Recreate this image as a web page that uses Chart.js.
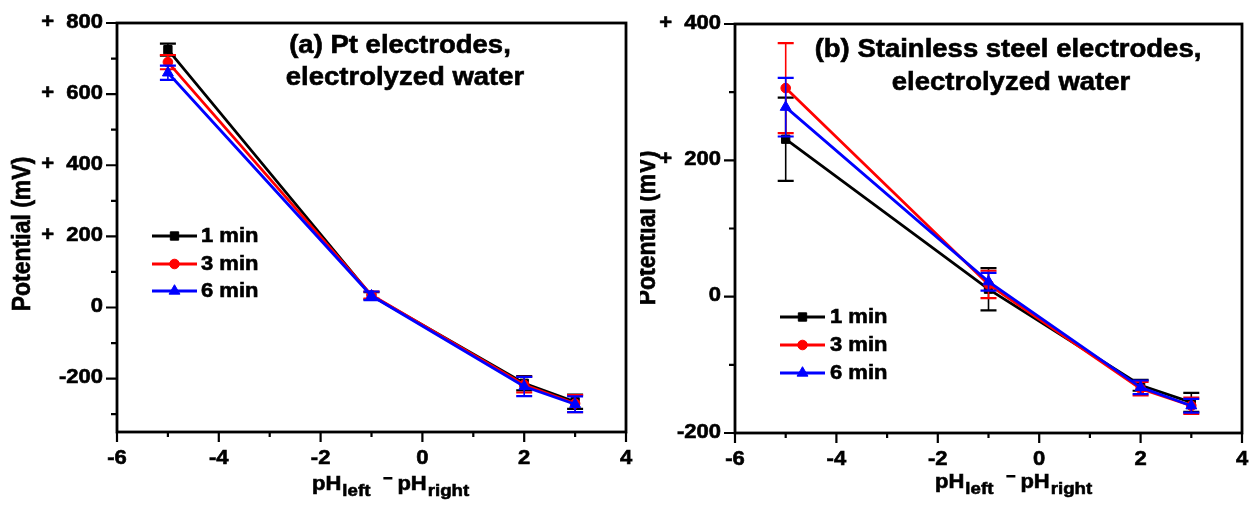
<!DOCTYPE html>
<html>
<head>
<meta charset="utf-8">
<script src="https://cdn.jsdelivr.net/npm/chart.js@4.4.1/dist/chart.umd.min.js"></script>
<style>
  body { margin: 0; background: #fff; width: 1258px; height: 505px; overflow: hidden; position: relative; }
  canvas { position: absolute; top: 0; }
  #chartA { left: 0; }
  #chartB { left: 640px; }
</style>
</head>
<body>
<canvas id="chartA" width="640" height="505"></canvas>
<canvas id="chartB" width="618" height="505"></canvas>
<script>
// x values: pH(left) - pH(right)
const xVals = [-5, -1, 2, 3];
const seriesNames = ['1 min', '3 min', '6 min'];

// (a) Pt electrodes, potential in mV, with error bars
const pt1 = [725, 33, -213, -265];
const pt1Err = [17, 10, 20, 20];
const pt3 = [690, 35, -217, -270];
const pt3Err = [20, 10, 22, 24];
const pt6 = [660, 33, -222, -272];
const pt6Err = [20, 12, 27, 22];

// (b) Stainless steel electrodes
const ss1 = [231, 11, -130, -155];
const ss1Err = [61, 31, 8, 14];
const ss3 = [306, 18, -135, -160];
const ss3Err = [66, 20, 10, 12];
const ss6 = [278, 22, -133, -160];
const ss6Err = [43, 13, 10, 10];

// tick labels
const xTickLabels = [-6, -4, -2, 0, 2, 4];
const yTickLabelsA = [800, 600, 400, 200, 0, -200];
const yTickLabelsB = [400, 200, 0, -200];

const colors = ['#000000', '#ff0000', '#0000ff'];
const styles = ['rect', 'circle', 'triangle'];
const radii = [5.9, 4.8, 6.3];
const SX = 1.1; // the source text is a bit wider than Arial
const FONT = '"Liberation Sans", Arial, sans-serif';

function txt(ctx, s, x, y, size, align, base) {
  ctx.save();
  ctx.font = 'bold ' + size + 'px ' + FONT;
  ctx.textAlign = align || 'left';
  ctx.textBaseline = base || 'middle';
  ctx.fillStyle = '#000';
  ctx.strokeStyle = '#000';
  ctx.lineWidth = 0.6;
  ctx.translate(x, y);
  ctx.scale(SX, 1);
  ctx.fillText(s, 0, 0);
  ctx.strokeText(s, 0, 0);
  const w = ctx.measureText(s).width * SX;
  ctx.restore();
  return w;
}

function marker(ctx, style, r, x, y, color) {
  ctx.save();
  ctx.fillStyle = color;
  ctx.strokeStyle = color;
  ctx.lineWidth = 1;
  ctx.beginPath();
  if (style === 'rect') {
    const s = Math.SQRT1_2 * r;
    ctx.rect(x - s, y - s, 2 * s, 2 * s);
  } else if (style === 'circle') {
    ctx.arc(x, y, r, 0, Math.PI * 2);
  } else {
    let a = 0;
    ctx.moveTo(x + Math.sin(a) * r, y - Math.cos(a) * r);
    a += 2 * Math.PI / 3;
    ctx.lineTo(x + Math.sin(a) * r, y - Math.cos(a) * r);
    a += 2 * Math.PI / 3;
    ctx.lineTo(x + Math.sin(a) * r, y - Math.cos(a) * r);
    ctx.closePath();
  }
  ctx.fill();
  ctx.stroke();
  ctx.restore();
}

const errorBars = {
  id: 'errorBars',
  afterDatasetDraw(chart, args) {
    const ds = chart.data.datasets[args.index];
    const y = chart.scales.y;
    const ctx = chart.ctx;
    ctx.save();
    ctx.strokeStyle = ds.borderColor;
    args.meta.data.forEach((pt, i) => {
      const top = y.getPixelForValue(ds.data[i].y + ds.err[i]);
      const bot = y.getPixelForValue(ds.data[i].y - ds.err[i]);
      ctx.lineWidth = 1.6;
      ctx.beginPath();
      ctx.moveTo(pt.x, top); ctx.lineTo(pt.x, bot);
      ctx.stroke();
      ctx.lineWidth = 2.2;
      ctx.beginPath();
      ctx.moveTo(pt.x - 8, top); ctx.lineTo(pt.x + 8, top);
      ctx.moveTo(pt.x - 8, bot); ctx.lineTo(pt.x + 8, bot);
      ctx.stroke();
    });
    ctx.restore();
  }
};

const decor = {
  id: 'decor',
  afterDraw(chart, args, o) {
    const ctx = chart.ctx;
    const a = chart.chartArea;
    const sx = chart.scales.x, sy = chart.scales.y;
    ctx.save();
    ctx.strokeStyle = '#000';
    // frame
    ctx.lineWidth = 2.8;
    ctx.strokeRect(a.left, a.top, a.right - a.left, a.bottom - a.top);
    // ticks
    ctx.lineWidth = 2.2;
    ctx.beginPath();
    for (let v = sx.min; v <= sx.max; v += 1) {
      const px = sx.getPixelForValue(v);
      const len = xTickLabels.includes(v) ? 10 : 5;
      ctx.moveTo(px, a.bottom); ctx.lineTo(px, a.bottom + len);
    }
    for (let v = Math.ceil(sy.min / 100) * 100; v <= sy.max; v += 100) {
      const py = sy.getPixelForValue(v);
      const len = o.yTicks.includes(v) ? 11 : 6;
      ctx.moveTo(a.left, py); ctx.lineTo(a.left - len, py);
    }
    ctx.stroke();
    ctx.restore();

    xTickLabels.forEach(v => txt(ctx, String(v), sx.getPixelForValue(v), a.bottom + 26, 20, 'center'));
    o.yTicks.forEach(v => {
      const s = v > 0 ? '+  ' + v : String(v);
      txt(ctx, s, a.left - 14, sy.getPixelForValue(v) - 1, 20, 'right');
    });

    // panel title
    o.title.forEach(t => txt(ctx, t[0], t[1], t[2], 25, 'center'));

    // legend
    const L = o.legend;
    L.ys.forEach((ly, k) => {
      ctx.save();
      ctx.strokeStyle = colors[k];
      ctx.lineWidth = 2.8;
      ctx.beginPath();
      ctx.moveTo(L.x1, ly); ctx.lineTo(L.x2, ly);
      ctx.stroke();
      ctx.restore();
      marker(ctx, styles[k], radii[k], (L.x1 + L.x2) / 2, ly, colors[k]);
      txt(ctx, seriesNames[k], L.xt, ly, 20, 'left');
    });

    // y axis title
    ctx.save();
    ctx.translate(o.yTitle[0], o.yTitle[1]);
    ctx.rotate(-Math.PI / 2);
    ctx.scale(1, SX);
    ctx.font = 'bold 23px ' + FONT;
    ctx.textAlign = 'center';
    ctx.textBaseline = 'middle';
    ctx.fillStyle = '#000';
    ctx.strokeStyle = '#000';
    ctx.lineWidth = 0.6;
    ctx.fillText('Potential (mV)', 0, 0);
    ctx.strokeText('Potential (mV)', 0, 0);
    ctx.restore();

    // x axis title: pH_left - pH_right
    let x = o.xTitle[0];
    const y = o.xTitle[1];
    x += txt(ctx, 'pH', x, y, 20, 'left', 'alphabetic');
    x += txt(ctx, 'left', x + 1, y + 6, 17, 'left', 'alphabetic') + 1;
    x += 13;
    ctx.fillStyle = '#000';
    ctx.fillRect(x, y - 13, 9, 2.5);
    x += 9 + 5;
    x += txt(ctx, 'pH', x, y, 20, 'left', 'alphabetic');
    txt(ctx, 'right', x + 1, y + 6, 17, 'left', 'alphabetic');
  }
};

function makeChart(id, vals, errs, ymin, ymax, pad, deco) {
  const datasets = seriesNames.map((name, k) => ({
    label: name,
    data: xVals.map((x, i) => ({ x: x, y: vals[k][i] })),
    err: errs[k],
    borderColor: colors[k],
    backgroundColor: colors[k],
    borderWidth: 2.8,
    pointStyle: styles[k],
    pointRadius: radii[k],
    pointBorderWidth: 1,
    showLine: true,
    order: 3 - k
  }));
  return new Chart(document.getElementById(id), {
    type: 'scatter',
    data: { datasets: datasets },
    options: {
      responsive: false,
      animation: false,
      devicePixelRatio: 1,
      layout: { padding: pad },
      plugins: {
        legend: { display: false },
        tooltip: { enabled: false },
        decor: deco
      },
      scales: {
        x: { type: 'linear', min: -6, max: 4, display: false },
        y: { type: 'linear', min: ymin, max: ymax, display: false }
      }
    },
    plugins: [errorBars, decor]
  });
}

makeChart('chartA', [pt1, pt3, pt6], [pt1Err, pt3Err, pt6Err], -350, 800,
  { left: 117, right: 14, top: 23, bottom: 73 },
  {
    yTicks: yTickLabelsA,
    title: [['(a) Pt electrodes,', 400, 46], ['electrolyzed water', 405, 78]],
    legend: { x1: 152, x2: 197, xt: 201, ys: [236, 264, 291] },
    yTitle: [23, 234],
    xTitle: [312, 490]
  });

makeChart('chartB', [ss1, ss3, ss6], [ss1Err, ss3Err, ss6Err], -200, 400,
  { left: 95, right: 16, top: 24, bottom: 72 },
  {
    yTicks: yTickLabelsB,
    title: [['(b) Stainless steel electrodes,', 368, 50], ['electrolyzed water', 371, 83]],
    legend: { x1: 140, x2: 185, xt: 190, ys: [317, 345, 373] },
    yTitle: [8, 228],
    xTitle: [295, 488]
  });
</script>
</body>
</html>
